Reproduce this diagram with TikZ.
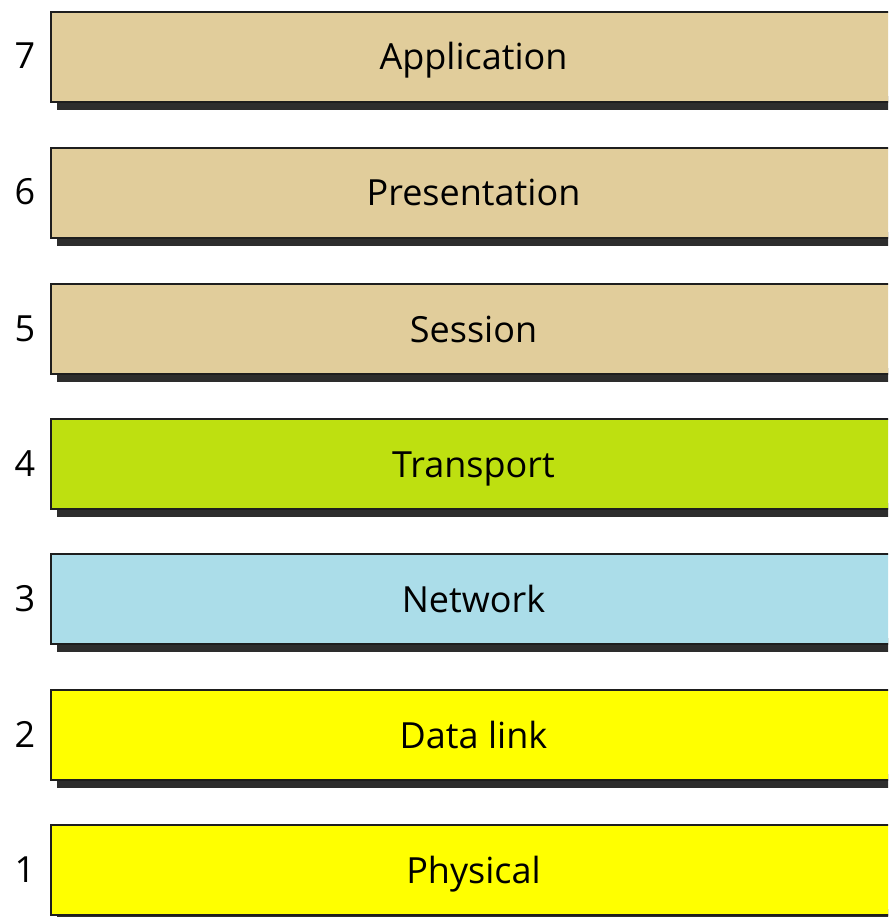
\documentclass[tikz,border=0pt]{standalone}
\usepackage{fontspec}
\setmainfont{Open Sans}
\usetikzlibrary{calc}
\definecolor{tan}{RGB}{225,205,155}
\definecolor{lime}{RGB}{190,224,16}
\definecolor{lblue}{RGB}{171,221,233}
\definecolor{yel}{RGB}{255,255,0}
\definecolor{shadowc}{RGB}{45,45,45}
\definecolor{edge}{RGB}{30,30,30}
\tikzset{
  layer/.style={draw=edge, line width=2pt, anchor=north west, inner sep=0pt,
    minimum width=845pt, minimum height=90pt, text height=26pt, text depth=0pt,
    font=\fontsize{36}{40}\selectfont},
  num/.style={font=\fontsize{36}{40}\selectfont, inner sep=0pt, text height=26pt, text depth=0pt},
  shadowbox/.style={fill=shadowc}
}
\begin{document}
\begin{tikzpicture}[x=1pt,y=-1pt]
\useasboundingbox (0,0) rectangle (888,917);
\clip (0,0) rectangle (888,917);
\foreach \t/\name/\col/\txt/\n in {11/L7/tan/Application/7, 147/L6/tan/Presentation/6, 283/L5/tan/Session/5, 418/L4/lime/Transport/4, 553/L3/lblue/Network/3, 689/L2/yel/Data link/2, 824/L1/yel/Physical/1}{
  \fill[shadowbox] (57,\t+85) rectangle (910,\t+99);
  \node[layer, fill=\col] (\name) at (50,\t) {\txt};
  \node[num] (N\name) at (25,\t+45) {\n};
}
\end{tikzpicture}
\end{document}
